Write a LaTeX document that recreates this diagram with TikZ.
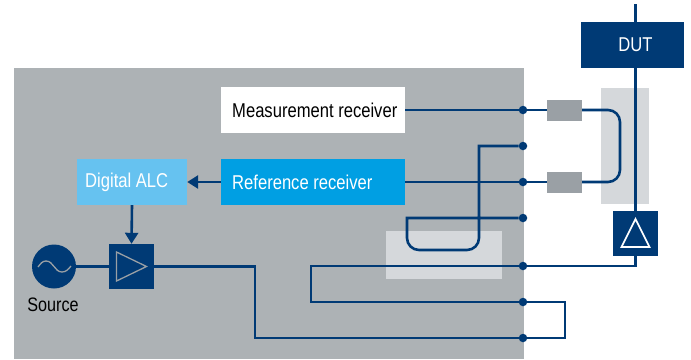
\documentclass[tikz,border=0pt]{standalone}
\usepackage{fontspec}
\usetikzlibrary{arrows.meta}
\setmainfont[FakeStretch=0.83]{Liberation Sans}
\definecolor{rsblue}{HTML}{003A75}
\definecolor{panelgray}{HTML}{ADB2B5}
\definecolor{lightgray}{HTML}{D5D8DB}
\definecolor{padgray}{HTML}{9AA0A5}
\definecolor{refblue}{HTML}{009FE3}
\definecolor{alcblue}{HTML}{66C2F0}
\tikzset{
  wire/.style={draw=rsblue,line width=2.6pt},
  txt/.style={font=\fontsize{20}{22}\selectfont,inner sep=0pt},
  blockbox/.style={minimum height=46pt,inner sep=0pt},
  ampbox/.style={fill=rsblue,minimum width=45pt,minimum height=45pt,inner sep=0pt},
  padbox/.style={fill=padgray,minimum width=35pt,minimum height=21pt,inner sep=0pt},
  portdot/.style={circle,fill=rsblue,minimum size=8.5pt,inner sep=0pt},
}
\begin{document}
\begin{tikzpicture}[x=1pt,y=-1pt]
\useasboundingbox (0,0) rectangle (691,359);
\fill[panelgray] (14,68) rectangle (524,359);
\fill[lightgray] (601,88) rectangle (649,204);
\fill[lightgray] (386,231) rectangle (502,279);

\node [portdot] (p1) at (523,110) {};
\node [portdot] (p2) at (523,146) {};
\node [portdot] (p3) at (523,182) {};
\node [portdot] (p4) at (523,218) {};
\node [portdot] (p5) at (523,266) {};
\node [portdot] (p6) at (523,302) {};
\node [portdot] (p7) at (523,338) {};

\node [blockbox,fill=white,minimum width=184pt] (meas) at (313,110) {};
\node [txt,anchor=west] (meastxt) at (232,110) {Measurement receiver};
\node [blockbox,fill=refblue,minimum width=184pt] (ref) at (313,182) {};
\node [txt,anchor=west,text=white] (reftxt) at (232,182) {Reference receiver};
\node [blockbox,fill=alcblue,minimum width=110pt] (alc) at (132,182) {};
\node [txt,anchor=west,text=white] (alctxt) at (85,182) {Digital ALC};

\node [padbox] (pad1) at (564.5,110) {};
\node [padbox] (pad2) at (564.5,182) {};

\coordinate (top) at (635.5,4);
\node [ampbox] (couple) at (635.5,233.5) {};
\draw [wire] (top) -- (couple.north);
\node [fill=rsblue,minimum width=103pt,minimum height=46pt,inner sep=0pt] (dut) at (632.5,45) {};
\node [txt,text=white] (duttxt) at (635.5,45) {DUT};
\draw [white,line width=1.6pt,line join=miter] (635.5,219) -- (649.5,247) -- (621.5,247) -- cycle;

\node [ampbox] (amp) at (131.5,266.5) {};
\draw [padgray,line width=1.3pt] (116.5,252) -- (146.5,266.5) -- (116.5,281) -- cycle;
\node [circle,fill=rsblue,minimum size=44pt,inner sep=0pt] (src) at (54,266.5) {};
\draw [padgray,line width=1.3pt] (38,267) to[out=50,in=180] (46,261) to[out=0,in=180] (62,272) to[out=0,in=-130] (71,266);
\node [txt,font=\fontsize{19.5}{22}\selectfont] (srctxt) at (53,305) {Source};

\draw [wire] (meas.east) -- (p1);
\draw [wire] (p1) -- (pad1);
\draw [wire] (ref.east) -- (p3);
\draw [wire] (p3) -- (pad2);
\draw [wire,rounded corners=12pt] (pad1.east) -| (620,146) |- (pad2.east);
\draw [wire] (p2) -- (479,146) [rounded corners=12pt] -- (479,250) -- (407,250) [sharp corners] -- (407,218) -- (p4);
\draw [wire] (couple.south) |- (p5);
\draw [wire] (p5) -- (311,266) -- (311,302) -- (p6);
\draw [wire] (p6) -- (565,302) -- (565,338) -- (p7);
\draw [wire] (p7) -- (255,338) -- (255,266.5) -- (amp.east);
\draw [wire] (src) -- (amp);
\draw [rsblue,line width=2.6pt,-{Triangle[length=11pt,width=13pt]}] (ref.west) -- (alc.east);
\draw [rsblue,line width=2.6pt,-{Triangle[length=11pt,width=13pt]}] (alc.south) -- (amp.north);
\end{tikzpicture}
\end{document}
